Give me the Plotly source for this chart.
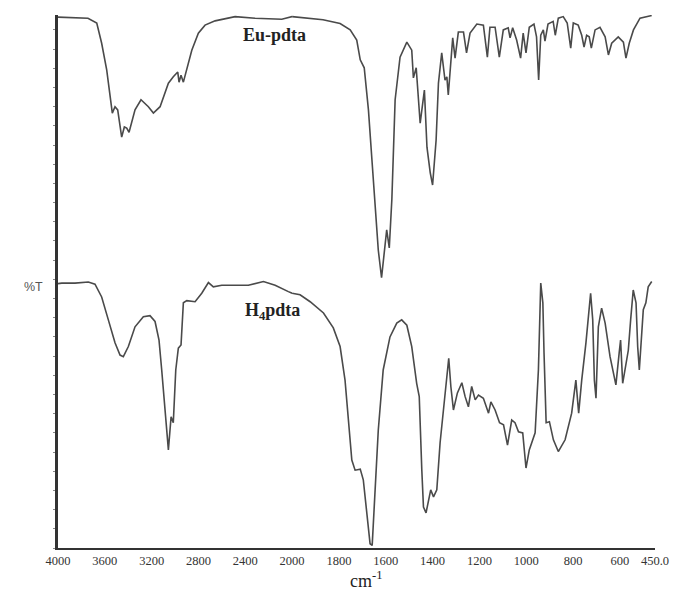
import plotly.graph_objects as go

# ---- data (wavenumber in cm-1, transmittance in arbitrary %T) ----
eu_wn = [4000, 3744, 3669, 3627, 3584, 3556, 3536, 3513, 3490, 3456, 3433, 3413, 3393, 3342, 3291,
         3228, 3185, 3128, 3057, 3015, 2977, 2966, 2949, 2929, 2900, 2857, 2801, 2744, 2658, 2487,
         2316, 2088, 2000, 1868, 1795, 1752, 1724, 1709, 1692, 1674, 1659, 1646, 1632, 1618, 1596,
         1585, 1574, 1560, 1539, 1510, 1489, 1482, 1470, 1453, 1442, 1435, 1424, 1410, 1400, 1385,
         1375, 1361, 1347, 1339, 1333, 1322, 1314, 1304, 1290, 1268, 1255, 1240, 1211, 1183, 1166,
         1155, 1133, 1115, 1098, 1077, 1069, 1058, 1041, 1024, 1013, 1001, 987, 967, 956, 947,
         938, 927, 920, 907, 885, 876, 863, 842, 825, 810, 799, 778, 763, 753, 742,
         731, 722, 706, 685, 663, 649, 635, 607, 585, 574, 560, 542, 514, 485, 464]
eu_t = [99.6, 99.4, 98.5, 94.7, 89.7, 84.6, 81.6, 82.8, 82.2, 77.1, 79.0, 78.8, 78.0, 82.2, 84.1,
        82.8, 81.6, 82.8, 87.2, 88.4, 89.3, 87.4, 88.7, 87.4, 89.7, 93.4, 96.6, 98.1, 98.9, 99.7,
        99.4, 99.2, 99.7, 99.1, 98.4, 97.2, 95.3, 91.6, 90.1, 82.2, 72.8, 64.7, 55.9, 50.7, 59.7,
        56.3, 65.4, 84.1, 92.1, 94.9, 93.4, 88.2, 90.1, 79.7, 84.1, 85.9, 75.2, 70.4, 68.1, 76.5,
        87.2, 92.9, 87.8, 88.4, 85.0, 91.6, 95.7, 91.9, 96.8, 96.8, 92.9, 96.6, 98.3, 98.1, 92.1,
        97.7, 97.7, 92.1, 97.2, 97.6, 95.7, 97.6, 95.3, 91.9, 96.6, 92.9, 97.7, 98.3, 95.9, 87.8,
        96.2, 97.2, 95.1, 98.3, 98.8, 96.2, 99.4, 99.7, 98.5, 93.8, 98.5, 98.1, 96.2, 94.0, 96.2,
        95.9, 93.8, 97.2, 97.7, 95.9, 92.5, 94.7, 95.9, 94.9, 91.9, 94.7, 97.2, 99.4, 99.7, 99.9]

h4_wn = [4000, 3968, 3855, 3741, 3684, 3627, 3570, 3513, 3470, 3442, 3399, 3342, 3271, 3214, 3171,
         3137, 3114, 3085, 3057, 3034, 3015, 2994, 2972, 2949, 2929, 2900, 2829, 2772, 2715, 2673,
         2601, 2487, 2374, 2245, 2145, 2032, 2000, 1966, 1923, 1866, 1824, 1795, 1774, 1760, 1745,
         1731, 1709, 1696, 1681, 1667, 1658, 1646, 1632, 1611, 1582, 1553, 1532, 1510, 1489, 1468,
         1457, 1446, 1439, 1428, 1418, 1408, 1396, 1382, 1368, 1351, 1339, 1331, 1322, 1311, 1294,
         1275, 1261, 1247, 1233, 1218, 1204, 1183, 1161, 1151, 1133, 1114, 1097, 1080, 1062, 1048,
         1033, 1015, 1001, 987, 962, 948, 938, 929, 924, 915, 901, 884, 863, 834, 806,
         788, 776, 763, 745, 731, 725, 716, 709, 702, 692, 678, 663, 642, 617, 603,
         597, 588, 578, 564, 554, 543, 531, 524, 517, 507, 500, 489, 479, 464]
h4_t = [49.6, 49.7, 49.7, 49.9, 49.5, 47.1, 42.8, 38.5, 36.2, 35.9, 37.8, 41.5, 43.4, 43.6, 42.5,
        39.0, 33.4, 25.3, 18.4, 24.6, 23.5, 33.4, 37.5, 38.1, 46.0, 46.4, 46.2, 47.8, 49.8, 49.0,
        49.3, 49.3, 49.3, 50.0, 49.3, 48.1, 47.8, 47.5, 46.2, 44.1, 41.3, 37.8, 31.5, 24.0, 16.5,
        14.6, 14.8, 12.8, 7.1, 0.8, 0.5, 11.5, 22.1, 33.4, 39.6, 42.2, 42.8, 41.8, 37.8, 30.9,
        28.4, 14.6, 7.7, 6.6, 9.0, 10.9, 9.6, 10.9, 19.7, 27.2, 31.5, 35.6, 30.3, 25.9, 29.1,
        31.0, 28.4, 26.5, 30.3, 27.8, 28.7, 28.1, 25.3, 27.4, 25.9, 23.5, 23.1, 19.3, 24.0, 23.5,
        21.8, 21.6, 15.0, 18.4, 21.6, 33.4, 49.7, 46.0, 36.6, 23.5, 23.7, 20.3, 18.1, 20.3, 25.3,
        31.5, 25.3, 31.5, 38.5, 46.0, 47.8, 42.8, 31.5, 28.1, 41.5, 45.0, 42.2, 35.9, 30.6, 36.6,
        39.0, 30.9, 33.4, 37.1, 42.8, 48.4, 46.0, 37.8, 33.4, 39.6, 44.7, 46.0, 49.0, 50.0]

ticks_hi = [4000, 3600, 3200, 2800, 2400, 2000]
ticks_lo = [1800, 1600, 1400, 1200, 1000, 800, 600, 450]
ticks_lo_text = ["1800", "1600", "1400", "1200", "1000", "800", "600", "450.0"]

LINE = "#4a4a4a"
SERIF = "Liberation Serif, Times New Roman, serif"

fig = go.Figure()


def split(wn, t):
    hi = [(w, v) for w, v in zip(wn, t) if w >= 2000]
    lo = [(w, v) for w, v in zip(wn, t) if w <= 2000]
    return hi, lo


for wn, t in [(eu_wn, eu_t), (h4_wn, h4_t)]:
    hi, lo = split(wn, t)
    fig.add_trace(go.Scatter(x=[p[0] for p in hi], y=[p[1] for p in hi], mode="lines",
                             line=dict(color=LINE, width=1.6), xaxis="x", yaxis="y",
                             showlegend=False, hoverinfo="skip"))
    fig.add_trace(go.Scatter(x=[p[0] for p in lo], y=[p[1] for p in lo], mode="lines",
                             line=dict(color=LINE, width=1.6), xaxis="x2", yaxis="y",
                             showlegend=False, hoverinfo="skip"))

split_frac = 2000 / 5100.0
axis_common = dict(showline=True, linecolor="#333", linewidth=2, showgrid=False, zeroline=False,
                   ticks="", automargin=False,
                   tickfont=dict(family=SERIF, size=12.5, color="#333"))

fig.update_layout(
    width=678, height=592,
    margin=dict(l=58, r=23, t=15, b=44),
    paper_bgcolor="white", plot_bgcolor="white",
    xaxis=dict(domain=[0, split_frac], range=[4000, 2000], tickvals=ticks_hi,
               ticktext=[str(v) for v in ticks_hi], anchor="y", **axis_common),
    xaxis2=dict(domain=[split_frac, 1], range=[2000, 450], tickvals=ticks_lo,
                ticktext=ticks_lo_text, anchor="y", **axis_common),
    yaxis=dict(range=[0, 100], showline=True, linecolor="#333", linewidth=2.5, showgrid=False,
               zeroline=False, showticklabels=False, ticks="outside", ticklen=2, dtick=3.6,
               tickcolor="#888", anchor="x", automargin=False),
    annotations=[
        dict(text="<b>Eu-pdta</b>", x=2154, y=96.2, xref="x", yref="y", showarrow=False,
             font=dict(family=SERIF, size=18, color="#222")),
        dict(text="<b>H<sub>4</sub>pdta</b>", x=2171, y=44.3, xref="x", yref="y", showarrow=False,
             font=dict(family=SERIF, size=18, color="#222")),
        dict(text="%T", x=-0.06, y=0.49, xref="paper", yref="paper", showarrow=False,
             font=dict(family="Liberation Sans, Arial, sans-serif", size=12.5, color="#555")),
        dict(text="cm<sup>-1</sup>", x=0.516, y=-0.060, xref="paper", yref="paper",
             showarrow=False, yanchor="middle",
             font=dict(family=SERIF, size=18, color="#222")),
    ],
)

fig.write_html("out.html", config={"displayModeBar": False},
               post_script="document.body.style.margin='0px';")
